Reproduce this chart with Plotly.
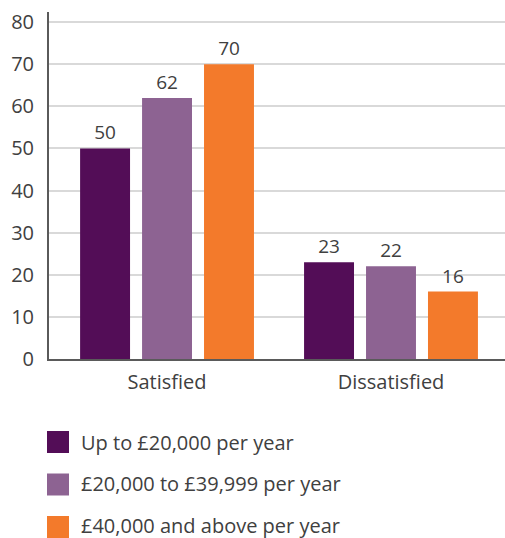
import plotly.graph_objects as go

# Survey responses by income band (percent)
categories = ["Satisfied", "Dissatisfied"]
series_names = [
    "Up to £20,000 per year",
    "£20,000 to £39,999 per year",
    "£40,000 and above per year",
]
up_to_20k = [50, 23]
from_20k_to_40k = [62, 22]
over_40k = [70, 16]
y_ticks = [0, 10, 20, 30, 40, 50, 60, 70, 80]

series_values = [up_to_20k, from_20k_to_40k, over_40k]
colors = ["#530d57", "#8d6392", "#f37a2b"]

W, H = 505, 538
M_L, M_R, M_T, M_B = 49, 0, 12, 179
PW = W - M_L - M_R
PH = H - M_T - M_B

FONT = "Open Sans, Lato, sans-serif"
TEXT_COLOR = "#404040"

fig = go.Figure()
for name, vals, col in zip(series_names, series_values, colors):
    fig.add_trace(go.Bar(
        x=categories,
        y=vals,
        name=name,
        marker=dict(color=col, line=dict(width=0)),
        text=vals,
        texttemplate="%{text}",
        textposition="outside",
        textfont=dict(size=19, color=TEXT_COLOR, family=FONT),
        cliponaxis=False,
        showlegend=False,
    ))


def px_to_paper_x(px):
    return (px - M_L) / PW


def px_to_paper_y(py):
    return (H - M_B - py) / PH


# Custom legend: large squares with labels stacked below the chart
shapes = []
annotations = []
square_centers = [442, 484.5, 527]
label_centers = [442, 484, 525]
for name, col, cy, ty in zip(series_names, colors, square_centers, label_centers):
    shapes.append(dict(
        type="rect", xref="paper", yref="paper",
        x0=px_to_paper_x(47), x1=px_to_paper_x(69),
        y0=px_to_paper_y(cy - 11), y1=px_to_paper_y(cy + 11),
        fillcolor=col, line=dict(width=0),
    ))
    annotations.append(dict(
        text=name, xref="paper", yref="paper",
        x=px_to_paper_x(79), y=px_to_paper_y(ty),
        xanchor="left", yanchor="middle", showarrow=False,
        font=dict(size=20, color=TEXT_COLOR, family=FONT),
    ))

fig.update_layout(
    width=W, height=H,
    margin=dict(l=M_L, r=M_R, t=M_T, b=M_B),
    paper_bgcolor="white",
    plot_bgcolor="white",
    barmode="group",
    bargap=0.17,
    bargroupgap=0.194,
    font=dict(family=FONT, color=TEXT_COLOR, size=20),
    shapes=shapes,
    annotations=annotations,
    xaxis=dict(
        range=[-0.527, 1.509],
        showline=True, linecolor="#5a5a5a", linewidth=2,
        showgrid=False, ticks="",
        ticklabelstandoff=4,
        tickfont=dict(size=20, color=TEXT_COLOR, family=FONT),
        fixedrange=True,
    ),
    yaxis=dict(
        range=[0, 82.4],
        tickvals=y_ticks,
        showline=True, linecolor="#5a5a5a", linewidth=2,
        showgrid=True, gridcolor="#d9d9d9", gridwidth=1.5,
        zeroline=False, ticks="",
        ticklabelstandoff=9,
        tickfont=dict(size=20, color=TEXT_COLOR, family=FONT),
        fixedrange=True,
    ),
)

fig.write_html("out.html")
